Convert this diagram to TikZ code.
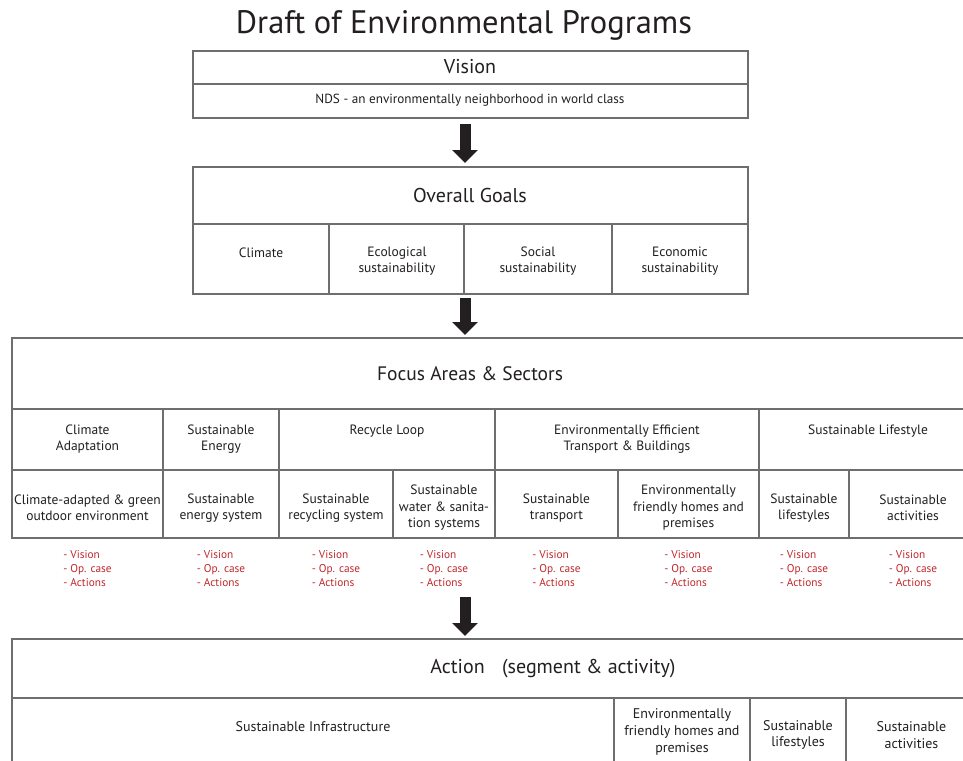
\documentclass[tikz,border=0pt]{standalone}
\usepackage{fontspec}
\setmainfont{PT Sans}
\usetikzlibrary{arrows.meta}
\definecolor{linegray}{HTML}{6E6E6E}
\definecolor{ink}{HTML}{231F20}
\definecolor{redtxt}{HTML}{C0282D}
\tikzset{
 cellbox/.style={draw=linegray, line width=1.3pt, inner sep=0pt, outer sep=0pt, anchor=north west, rectangle},
 lbl/.style={text=ink, align=center, inner sep=0pt, font=\fontsize{13.5}{16.5}\selectfont},
 head/.style={text=ink, inner sep=0pt, font=\fontsize{20}{24}\selectfont},
 redlist/.style={text=redtxt, align=left, inner sep=0pt, font=\fontsize{11.3}{14}\selectfont},
 actlbl/.style={text=ink, align=center, inner sep=0pt, font=\fontsize{14}{16.7}\selectfont},
 bigarrow/.style={line width=11pt, draw=ink, -{Triangle[width=25pt,length=13pt]}},
}
\newcommand{\cellnode}[5]{\node[cellbox, minimum width={(#4-#2)*1pt}, minimum height={(#5-#3)*1pt}] (#1) at (#2,#3) {};}
\begin{document}
\begin{tikzpicture}[x=1pt,y=-1pt]
\useasboundingbox (0,0) rectangle (963,760);
\clip (0,0) rectangle (963,760);
\fill[white] (0,0) rectangle (963,760);

% title
\node[text=ink, inner sep=0pt, anchor=base, font=\fontsize{32.5}{38}\selectfont] (title) at (464,34) {Draft of Environmental Programs};

% vision
\cellnode{visT}{193}{51}{748}{84}
\cellnode{visB}{193}{84}{748}{118}
\node[head] (visTt) at (470,67) {Vision};
\node[lbl, font=\fontsize{13.2}{15}\selectfont] (visBt) at (470,100) {NDS - an environmentally neighborhood in world class};

% goals
\cellnode{goT}{193}{167}{748}{224}
\cellnode{g1}{193}{224}{329}{294}
\cellnode{g2}{329}{224}{464}{294}
\cellnode{g3}{464}{224}{612}{294}
\cellnode{g4}{612}{224}{748}{294}
\node[head] (goTt) at (470,195) {Overall Goals};
\node[lbl] (g1t) at (261,253) {Climate};
\node[lbl] (g2t) at (397,261) {Ecological\\sustainability};
\node[lbl] (g3t) at (538,261) {Social\\sustainability};
\node[lbl] (g4t) at (680,261) {Economic\\sustainability};

% focus
\cellnode{foT}{12}{338}{977}{409}
\cellnode{f1}{12}{409}{163}{470}
\cellnode{f2}{163}{409}{279}{470}
\cellnode{f3}{279}{409}{495}{470}
\cellnode{f4}{495}{409}{759}{470}
\cellnode{f5}{759}{409}{977}{470}
\cellnode{s1}{12}{470}{163}{538}
\cellnode{s2}{163}{470}{279}{538}
\cellnode{s3}{279}{470}{393}{538}
\cellnode{s4}{393}{470}{495}{538}
\cellnode{s5}{495}{470}{618}{538}
\cellnode{s6}{618}{470}{759}{538}
\cellnode{s7}{759}{470}{849}{538}
\cellnode{s8}{849}{470}{977}{538}
\node[head, font=\fontsize{19.5}{24}\selectfont] (foTt) at (470,374) {Focus Areas \& Sectors};
\node[lbl] (f1t) at (87.5,439) {Climate\\Adaptation};
\node[lbl] (f2t) at (221,439) {Sustainable\\Energy};
\node[lbl] (f3t) at (387,431) {Recycle Loop};
\node[lbl] (f4t) at (627,439) {Environmentally Efficient\\Transport \& Buildings};
\node[lbl] (f5t) at (868,431) {Sustainable Lifestyle};
\node[lbl] (s1t) at (87.5,508) {Climate-adapted \& green\\outdoor environment};
\node[lbl] (s2t) at (221,508) {Sustainable\\energy system};
\node[lbl] (s3t) at (336,508) {Sustainable\\recycling system};
\node[lbl] (s4t) at (444,508) {Sustainable\\water \& sanita-\\tion systems};
\node[lbl] (s5t) at (556.5,508) {Sustainable\\transport};
\node[lbl] (s6t) at (688.5,508) {Environmentally\\friendly homes and\\premises};
\node[lbl] (s7t) at (804,508) {Sustainable\\lifestyles};
\node[lbl] (s8t) at (913,508) {Sustainable\\activities};

% red lists
\foreach \cx/\nm in {87.5/r1,221/r2,336/r3,444/r4,556.5/r5,688.5/r6,804/r7,913/r8}{
  \node[redlist] (\nm) at (\cx,569) {- Vision\\- Op. case\\- Actions};
}

% action
\cellnode{acT}{12}{639}{977}{698}
\cellnode{a1}{12}{698}{614}{790}
\cellnode{a2}{614}{698}{750}{790}
\cellnode{a3}{750}{698}{846}{790}
\cellnode{a4}{846}{698}{977}{790}
\node[head] (acTt) at (553,669) {Action\hspace{0.6em} (segment \& activity)};
\node[actlbl] (a1t) at (313,727) {Sustainable Infrastructure};
\node[actlbl] (a2t) at (682,732) {Environmentally\\friendly homes and\\premises};
\node[actlbl] (a3t) at (798,735) {Sustainable\\lifestyles};
\node[actlbl] (a4t) at (911.5,735) {Sustainable\\activities};

% arrows
\coordinate (ar1) at (465,124);
\coordinate (ar2) at (465,298);
\coordinate (ar3) at (465,597);
\draw[bigarrow, shorten >=4pt] (ar1) -- (ar1 |- goT.north);
\draw[bigarrow, shorten >=3pt] (ar2) -- (ar2 |- foT.north);
\draw[bigarrow, shorten >=3pt] (ar3) -- (ar3 |- acT.north);
\end{tikzpicture}
\end{document}
